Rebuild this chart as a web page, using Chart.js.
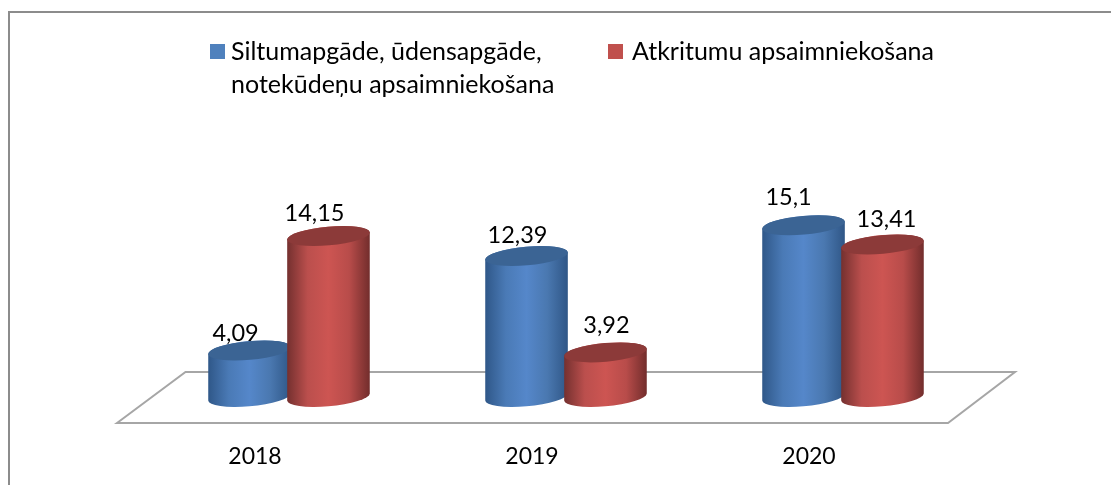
<!DOCTYPE html>
<html>
<head>
<meta charset="utf-8">
<title>Chart</title>
<script src="https://cdn.jsdelivr.net/npm/chart.js@4"></script>
<style>
  html, body { margin: 0; padding: 0; background: #fff; overflow: hidden; }
  canvas { display: block; }
</style>
</head>
<body>
<canvas id="myChart" width="1111" height="485"></canvas>
<script>
const years = ["2018", "2019", "2020"];
const heating = [4.09, 12.39, 15.1];
const waste = [14.15, 3.92, 13.41];
const heatingLegend = ["Siltumapgāde, ūdensapgāde,", "notekūdeņu apsaimniekošana"];
const wasteLegend = ["Atkritumu apsaimniekošana"];

// hand placed label offsets from the top of each cylinder, like the original
const heatingNudge = [[-14, -17], [-9, -21], [-15, -28]];
const wasteNudge = [[-14, -23], [1, -27], [4, -25]];

const FONT = "Lato, Carlito, sans-serif";
const TILT = -0.09;
const CAP_RATIO = 0.225;

const looks = [
  { stops: ["#2f5788", "#4a7ab6", "#5587ca", "#4a78b0", "#2f5686"], cap: "#3b6494", swatch: "#4f81bd" },
  { stops: ["#74302f", "#bb4f4d", "#cd5552", "#b84c4a", "#722d2c"], cap: "#8c3a39", swatch: "#c0504d" }
];

function drawCylinder(ctx, bar, look) {
  const w = bar.width / 2;
  const ry = w * CAP_RATIO;
  // parameter of the ellipse where its outline is left/right most
  const t = Math.atan2(-ry * Math.sin(TILT), w * Math.cos(TILT));

  const grad = ctx.createLinearGradient(bar.x - w, 0, bar.x + w, 0);
  look.stops.forEach((c, i) => grad.addColorStop(i / (look.stops.length - 1), c));

  ctx.beginPath();
  ctx.ellipse(bar.x, bar.base, w, ry, TILT, t, t + Math.PI);
  ctx.ellipse(bar.x, bar.y, w, ry, TILT, t + Math.PI, t + 2 * Math.PI);
  ctx.closePath();
  ctx.fillStyle = grad;
  ctx.fill();

  ctx.beginPath();
  ctx.ellipse(bar.x, bar.y, w, ry, TILT, 0, 2 * Math.PI);
  ctx.fillStyle = look.cap;
  ctx.fill();
}

const cylinders = {
  id: "cylinders",
  beforeDraw(chart) {
    const ctx = chart.ctx;
    ctx.save();
    ctx.fillStyle = "#fff";
    ctx.fillRect(0, 0, chart.width, chart.height);
    // outer frame, only top and left are in the picture
    ctx.strokeStyle = "#8c8c8c";
    ctx.lineWidth = 2;
    ctx.beginPath();
    ctx.moveTo(9, chart.height);
    ctx.lineTo(9, 12);
    ctx.lineTo(chart.width, 12);
    ctx.stroke();
    ctx.restore();
  },
  beforeDatasetsDraw(chart) {
    const { ctx, chartArea: a } = chart;
    // floor
    ctx.save();
    ctx.strokeStyle = "#a6a6a6";
    ctx.lineWidth = 2;
    ctx.lineJoin = "miter";
    ctx.beginPath();
    ctx.moveTo(a.left - 33.5, a.bottom + 26);
    ctx.lineTo(a.left + 35, a.bottom - 25);
    ctx.lineTo(a.right + 33.5, a.bottom - 25);
    ctx.lineTo(a.right - 33.5, a.bottom + 26);
    ctx.closePath();
    ctx.stroke();
    ctx.restore();
  },
  afterDatasetsDraw(chart) {
    const ctx = chart.ctx;
    ctx.save();
    // blue first so the red ones sit in front
    for (let d = 0; d < 2; d++) {
      chart.getDatasetMeta(d).data.forEach((bar) => drawCylinder(ctx, bar, looks[d]));
    }
    ctx.fillStyle = "#000";
    ctx.font = "23.5px " + FONT;
    ctx.textAlign = "center";
    ctx.textBaseline = "middle";
    const nudges = [heatingNudge, wasteNudge];
    for (let d = 0; d < 2; d++) {
      chart.getDatasetMeta(d).data.forEach((bar, i) => {
        const txt = String(chart.data.datasets[d].data[i]).replace(".", ",");
        ctx.fillText(txt, bar.x + nudges[d][i][0], bar.y + nudges[d][i][1]);
      });
    }
    ctx.restore();
  },
  afterDraw(chart) {
    const ctx = chart.ctx;
    ctx.save();
    ctx.font = "25px " + FONT;
    ctx.textAlign = "left";
    ctx.textBaseline = "middle";
    [[heatingLegend, 210], [wasteLegend, 608]].forEach((item, k) => {
      ctx.fillStyle = looks[k].swatch;
      ctx.fillRect(item[1], 44, 15, 15);
      ctx.fillStyle = "#000";
      item[0].forEach((line, n) => ctx.fillText(line, item[1] + 21 + (k ? 3 : 0), 52 + n * 33));
    });
    ctx.restore();
  }
};

new Chart(document.getElementById("myChart").getContext("2d"), {
  type: "bar",
  plugins: [cylinders],
  data: {
    labels: years,
    datasets: [
      { label: heatingLegend.join(" "), data: heating, backgroundColor: "rgba(0,0,0,0)" },
      { label: wasteLegend.join(" "), data: waste, backgroundColor: "rgba(0,0,0,0)" }
    ]
  },
  options: {
    responsive: false,
    animation: false,
    categoryPercentage: 0.57,
    barPercentage: 1.05,
    layout: { padding: { left: 150.5, right: 129.5, top: 215, bottom: 0 } },
    plugins: { legend: { display: false }, tooltip: { enabled: false } },
    scales: {
      y: { display: false, min: 0, max: 16 },
      x: {
        afterFit(scale) { scale.height = 88; },
        grid: { display: false, drawTicks: false },
        border: { display: false },
        ticks: {
          padding: 46,
          labelOffset: -34,
          maxRotation: 0,
          color: "#000",
          font: { family: FONT, size: 23 }
        }
      }
    }
  }
});
</script>
</body>
</html>
